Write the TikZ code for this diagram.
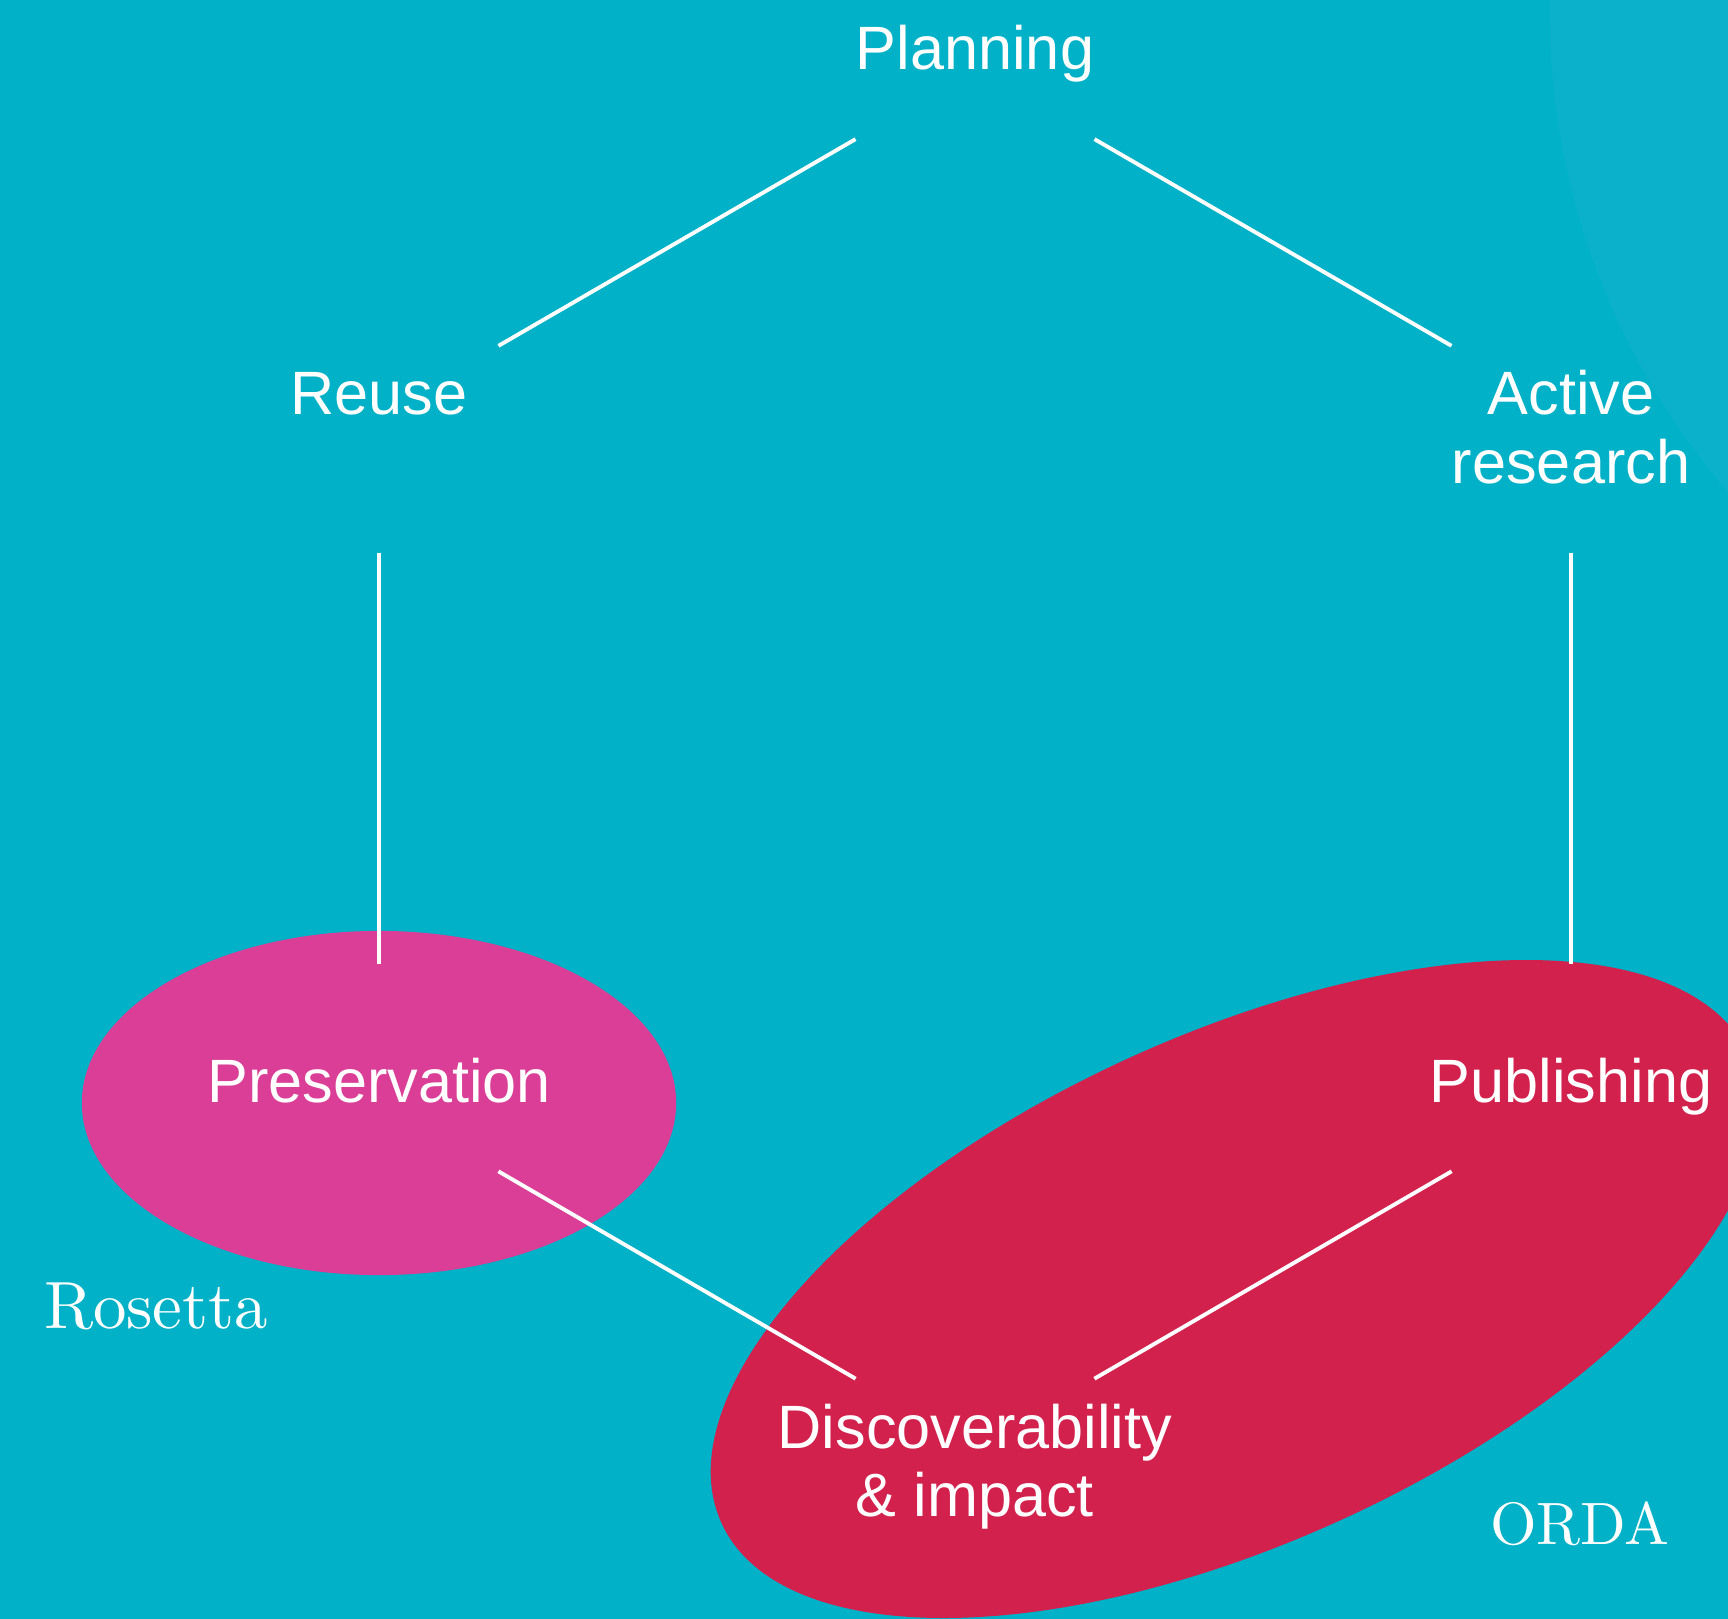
\documentclass[tikz,border=0pt]{standalone}
\usepackage{fontspec}
\newfontfamily\stagefont{Liberation Sans}
\newfontfamily\storefont{lmroman10-regular}[Extension=.otf]
\usetikzlibrary{positioning}

\definecolor{lagoon}{HTML}{00B1C8}
\definecolor{lagoonlight}{HTML}{0BB1CB}
\definecolor{orchid}{HTML}{DA3E96}
\definecolor{ruby}{HTML}{D3214E}

% two centred lines, baseline on the first one
\newcommand{\twolines}[2]{\begin{tabular}[t]{@{}c@{}}#1\\#2\end{tabular}}

\tikzset{
  stage/.style={text=white, font=\stagefont\fontsize{17.4}{19.6}\selectfont, anchor=base, inner sep=0pt},
  store/.style={text=white, font=\storefont\fontsize{19}{21}\selectfont, anchor=base, inner sep=0pt},
  link/.style={white, line width=1.1pt, shorten >=1.38cm, shorten <=1.38cm}
}

\begin{document}
\begin{tikzpicture}[x=0.01cm, y=-0.01cm]

% --- canvas ---
\useasboundingbox (0,0) rectangle (1728,1619);
\fill[lagoon] (0,0) rectangle (1728,1619);
\clip (0,0) rectangle (1728,1619);
\fill[lagoonlight] (2290,10) circle [radius=7.4cm];

% --- repositories ---
\fill[orchid] (379,1103) ellipse [x radius=2.97cm, y radius=1.72cm];
\fill[ruby, rotate around={24.5:(1235,1289)}] (1235,1289) ellipse [x radius=5.64cm, y radius=2.54cm];

% --- lifecycle stages (hexagon, side about 688) ---
\node[stage] (planning) at (975,70) {Planning};
\node[stage] (reuse) at (379,415) {Reuse};
\node[stage] (active) at (1571,415) {\twolines{Active}{research}};
\node[stage] (preservation) at (379,1102) {Preservation};
\node[stage] (publishing) at (1571,1102) {Publishing};
\node[stage] (discover) at (975,1448) {\twolines{Discoverability}{\& impact}};

% edges of the cycle
\draw[link] (planning.base) -- (reuse.base);
\draw[link] (planning.base) -- (active.base);
\draw[link] (reuse.base) -- (preservation.base);
\draw[link] (active.base) -- (publishing.base);
\draw[link] (preservation.base) -- (discover.base);
\draw[link] (publishing.base) -- (discover.base);

% --- repository names ---
\node[store] (rosetta) at (156,1328) {Rosetta};
\node[store, font=\storefont\fontsize{17}{19}\selectfont] (orda) at (1580,1544) {ORDA};

\end{tikzpicture}
\end{document}
